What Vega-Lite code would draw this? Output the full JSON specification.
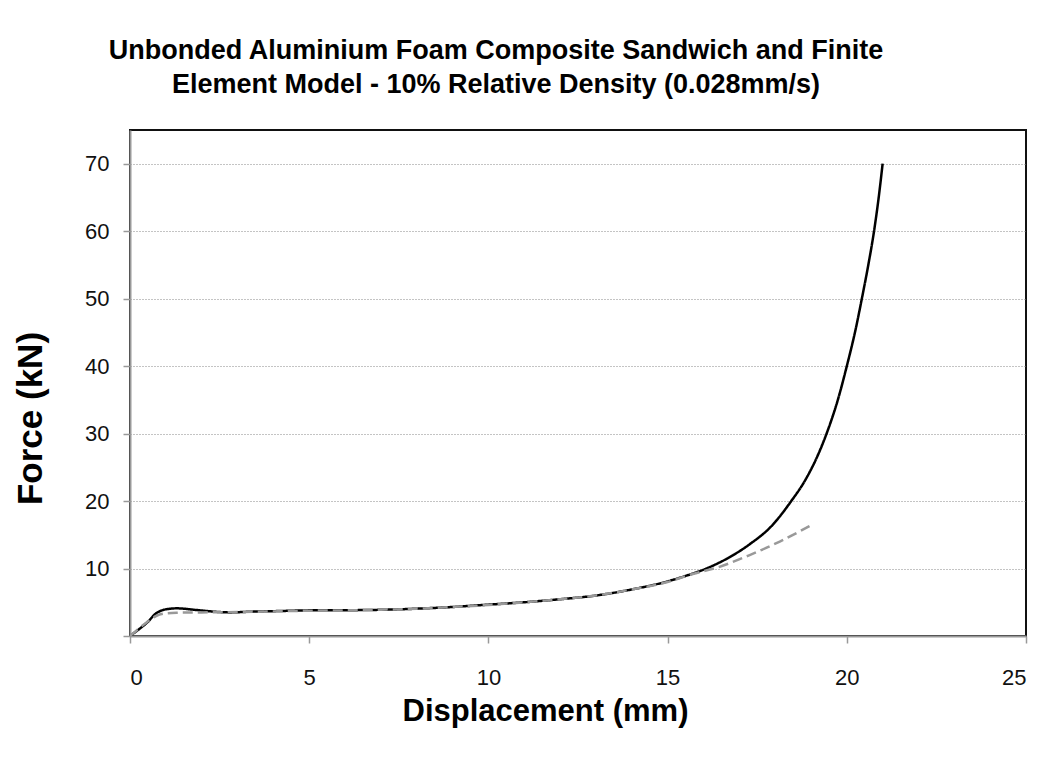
{
  "$schema": "https://vega.github.io/schema/vega-lite/v6.json",
  "autosize": "none",
  "width": 896,
  "height": 506,
  "padding": {"left": 130, "top": 130, "right": 20, "bottom": 129},
  "background": "white",
  "title": {
    "text": ["Unbonded Aluminium Foam Composite Sandwich and Finite", "Element Model - 10% Relative Density (0.028mm/s)"],
    "font": "Liberation Sans",
    "fontSize": 27,
    "fontWeight": "bold",
    "color": "#000",
    "anchor": "middle",
    "dx": -82,
    "offset": 31,
    "lineHeight": 34
  },
  "config": {
    "view": {"stroke": "#111", "strokeWidth": 2},
    "axis": {
      "labelFont": "Liberation Sans",
      "labelFontSize": 22,
      "labelColor": "#111",
      "titleFont": "Liberation Sans",
      "titleFontWeight": "bold",
      "titleColor": "#000",
      "domainColor": "#999",
      "domainWidth": 2,
      "tickColor": "#999",
      "tickWidth": 1.5,
      "tickSize": 7
    }
  },
  "data": {
    "values": [
      {"d": 0, "f": 0, "s": "Experiment"},
      {"d": 0.2, "f": 0.8, "s": "Experiment"},
      {"d": 0.46, "f": 1.9, "s": "Experiment"},
      {"d": 0.74, "f": 3.4, "s": "Experiment"},
      {"d": 1.0, "f": 3.95, "s": "Experiment"},
      {"d": 1.3, "f": 4.1, "s": "Experiment"},
      {"d": 1.86, "f": 3.85, "s": "Experiment"},
      {"d": 2.5, "f": 3.55, "s": "Experiment"},
      {"d": 2.79, "f": 3.5, "s": "Experiment"},
      {"d": 3.35, "f": 3.6, "s": "Experiment"},
      {"d": 4.18, "f": 3.7, "s": "Experiment"},
      {"d": 5, "f": 3.8, "s": "Experiment"},
      {"d": 6, "f": 3.82, "s": "Experiment"},
      {"d": 6.97, "f": 3.88, "s": "Experiment"},
      {"d": 8, "f": 4.05, "s": "Experiment"},
      {"d": 9, "f": 4.3, "s": "Experiment"},
      {"d": 9.85, "f": 4.6, "s": "Experiment"},
      {"d": 11, "f": 5.0, "s": "Experiment"},
      {"d": 12, "f": 5.45, "s": "Experiment"},
      {"d": 13, "f": 6.0, "s": "Experiment"},
      {"d": 14, "f": 6.9, "s": "Experiment"},
      {"d": 15, "f": 8.1, "s": "Experiment"},
      {"d": 15.5, "f": 8.9, "s": "Experiment"},
      {"d": 16.08, "f": 10.0, "s": "Experiment"},
      {"d": 16.7, "f": 11.6, "s": "Experiment"},
      {"d": 17.29, "f": 13.6, "s": "Experiment"},
      {"d": 17.9, "f": 16.3, "s": "Experiment"},
      {"d": 18.45, "f": 20, "s": "Experiment"},
      {"d": 18.84, "f": 23.1, "s": "Experiment"},
      {"d": 19.15, "f": 26.3, "s": "Experiment"},
      {"d": 19.45, "f": 30.2, "s": "Experiment"},
      {"d": 19.75, "f": 35, "s": "Experiment"},
      {"d": 20.0, "f": 40, "s": "Experiment"},
      {"d": 20.24, "f": 45.3, "s": "Experiment"},
      {"d": 20.42, "f": 50, "s": "Experiment"},
      {"d": 20.6, "f": 55, "s": "Experiment"},
      {"d": 20.76, "f": 60, "s": "Experiment"},
      {"d": 20.89, "f": 65, "s": "Experiment"},
      {"d": 21.0, "f": 70, "s": "Experiment"},
      {"d": 0, "f": 0, "s": "FE Model"},
      {"d": 0.2, "f": 0.9, "s": "FE Model"},
      {"d": 0.46, "f": 2.0, "s": "FE Model"},
      {"d": 0.74, "f": 3.0, "s": "FE Model"},
      {"d": 1.0, "f": 3.35, "s": "FE Model"},
      {"d": 1.3, "f": 3.45, "s": "FE Model"},
      {"d": 2, "f": 3.5, "s": "FE Model"},
      {"d": 3, "f": 3.55, "s": "FE Model"},
      {"d": 4, "f": 3.65, "s": "FE Model"},
      {"d": 5, "f": 3.75, "s": "FE Model"},
      {"d": 6, "f": 3.8, "s": "FE Model"},
      {"d": 7, "f": 3.9, "s": "FE Model"},
      {"d": 8, "f": 4.05, "s": "FE Model"},
      {"d": 9, "f": 4.3, "s": "FE Model"},
      {"d": 10, "f": 4.6, "s": "FE Model"},
      {"d": 11, "f": 5.0, "s": "FE Model"},
      {"d": 12, "f": 5.45, "s": "FE Model"},
      {"d": 13, "f": 6.0, "s": "FE Model"},
      {"d": 14, "f": 6.9, "s": "FE Model"},
      {"d": 15, "f": 8.0, "s": "FE Model"},
      {"d": 15.7, "f": 9.2, "s": "FE Model"},
      {"d": 16.36, "f": 10.1, "s": "FE Model"},
      {"d": 17.29, "f": 12.0, "s": "FE Model"},
      {"d": 18.13, "f": 14.0, "s": "FE Model"},
      {"d": 18.96, "f": 16.3, "s": "FE Model"}
    ]
  },
  "mark": {"type": "line", "interpolate": "monotone", "strokeWidth": 2.5, "clip": true},
  "encoding": {
    "x": {
      "field": "d",
      "type": "quantitative",
      "scale": {"domain": [0, 25], "nice": false},
      "axis": {
        "title": "Displacement (mm)",
        "values": [0, 5, 10, 15, 20, 25],
        "grid": false,
        "labelPadding": 24,
        "titleFontSize": 31,
        "titleX": 415,
        "titleY": 84,
        "titleBaseline": "alphabetic",
        "titleAnchor": "middle"
      }
    },
    "y": {
      "field": "f",
      "type": "quantitative",
      "scale": {"domain": [0, 75], "nice": false},
      "axis": {
        "title": "Force (kN)",
        "values": [0, 10, 20, 30, 40, 50, 60, 70],
        "labelExpr": "datum.value == 0 ? '' : datum.label",
        "grid": true,
        "gridColor": "#888",
        "gridDash": [1, 2],
        "gridWidth": 1,
        "labelPadding": 14,
        "titleFontSize": 35,
        "titleX": -100,
        "titleY": 288,
        "titleBaseline": "middle",
        "titleAngle": -90
      }
    },
    "color": {
      "field": "s",
      "type": "nominal",
      "scale": {"domain": ["Experiment", "FE Model"], "range": ["#000000", "#999999"]},
      "legend": null
    },
    "strokeDash": {
      "field": "s",
      "type": "nominal",
      "scale": {"domain": ["Experiment", "FE Model"], "range": [[1, 0], [10, 5]]},
      "legend": null
    }
  }
}
